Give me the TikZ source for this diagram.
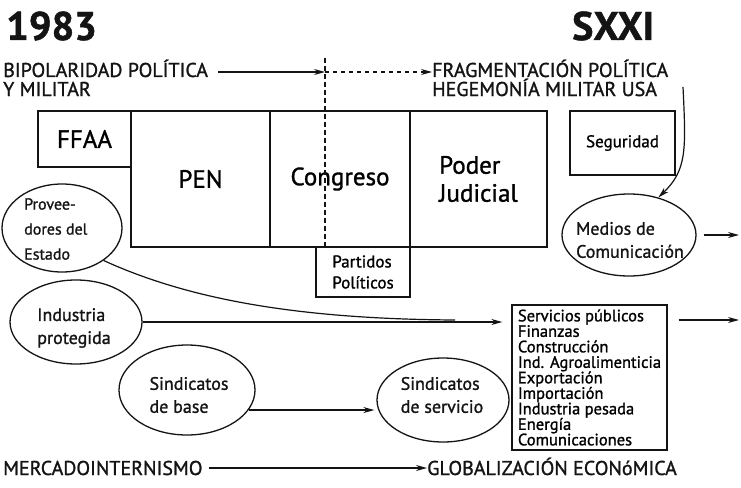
\documentclass[tikz,border=0pt]{standalone}
\usepackage{fontspec}
\setmainfont{PT Sans}[FakeBold=1.2]
\usetikzlibrary{shapes.geometric, arrows.meta, positioning}
\definecolor{inkblack}{HTML}{141414}

\begin{document}
\begin{tikzpicture}[x=1pt, y=-1pt,
  box/.style={draw=inkblack, line width=1.4pt, inner sep=2pt, font=\fontsize{25}{28}\selectfont},
  oval/.style={draw=inkblack, line width=1.3pt, ellipse, inner sep=0pt},
  ovaltext/.style={inkblack, align=left, inner sep=0pt, font=\fontsize{18}{23}\selectfont},
  yearlabel/.style={inkblack, inner sep=0pt, font=\fontsize{40}{40}\selectfont\bfseries},
  eralabel/.style={inkblack, inner sep=0pt, font=\fontsize{20}{20}\selectfont},
  flow/.style={inkblack, line width=1.2pt, -{Stealth[length=11pt, width=6pt]}},
  link/.style={inkblack, line width=1.2pt}
]
  % Canvas
  \useasboundingbox (0,0) rectangle (741,487);
  \fill[white] (0,0) rectangle (741,487);

  % Years
  \node[yearlabel, anchor=base west] (y1983) at (6,40) {1983};
  \node[yearlabel, anchor=base west] (ysxxi) at (572,40) {SXXI};

  % Political axis (top)
  \node[eralabel, anchor=base west] (bipol) at (3,77) {BIPOLARIDAD POLÍTICA};
  \node[eralabel, anchor=base west] (bipolb) at (3,96) {Y MILITAR};
  \node[eralabel, anchor=base west] (frag) at (432,77) {FRAGMENTACIÓN POLÍTICA};
  \node[eralabel, anchor=base west] (hege) at (432,96) {HEGEMONÍA MILITAR USA};
  \coordinate (split) at (325,72);
  \draw[flow, shorten <=10pt] (bipol.east |- split) -- (split);
  \draw[flow, dash pattern=on 4pt off 4pt] (split) -- (frag.west |- split);

  % State powers 1983
  \node[box, minimum width=93pt, minimum height=56pt] (ffaa) at (84.5,139) {FFAA};
  \node[box, minimum width=139pt, minimum height=136pt] (pen) at (200.5,179) {PEN};
  \node[box, minimum width=140pt, minimum height=136pt] (congreso) at (340,179) {Congreso};
  \node[box, minimum width=137pt, minimum height=136pt, align=left] (poder) at (478.5,179) {Poder\\Judicial};
  \node[box, minimum width=94pt, minimum height=50pt, align=left, font=\fontsize{17}{21}\selectfont] (partidos) at (363,272) {Partidos\\Políticos};
  \node[box, minimum width=105pt, minimum height=64pt, font=\fontsize{17}{17}\selectfont] (seguridad) at (622.5,143) {Seguridad};

  % Era divide
  \coordinate (cut) at (325,58);
  \draw[link, dash pattern=on 5pt off 3pt] (cut) -- (cut |- pen.south);

  % Actors
  \node[oval, minimum width=120pt, minimum height=88pt] (prov) at (62,228) {};
  \node[ovaltext, anchor=west, font=\fontsize{16}{25}\selectfont] (provtxt) at (24,229) {Provee-\\dores del\\Estado};
  \node[oval, minimum width=132pt, minimum height=84pt] (indus) at (76,322) {};
  \node[ovaltext] (industxt) at (74,328) {Industria\\protegida};
  \node[oval, minimum width=136pt, minimum height=90pt] (base) at (187,390) {};
  \node[ovaltext] (basetxt) at (189,395) {Sindicatos\\de base};
  \node[oval, minimum width=132pt, minimum height=84pt] (servi) at (443,400) {};
  \node[ovaltext] (servitxt) at (442,395) {Sindicatos\\de servicio};
  \node[oval, minimum width=134pt, minimum height=82pt] (medios) at (629,235) {};
  \node[ovaltext] (mediostxt) at (630,240) {Medios de\\Comunicación};

  % Sectors SXXI
  \node[box, minimum width=155pt, minimum height=145pt, inner xsep=5pt, align=left, font=\fontsize{16.5}{15.5}\selectfont] (sectores) at (589.5,377.5)
    {Servicios públicos\\Finanzas\\Construcción\\Ind. Agroalimenticia\\Exportación\\Importación\\Industria pesada\\Energía\\Comunicaciones};

  % Flows
  \coordinate (merge) at (455,320);
  \draw[link] (prov.-38) .. controls (190,300) and (300,319) .. (merge);
  \draw[flow, shorten >=9pt] (indus.east) -- (indus.east -| sectores.west);
  \coordinate (sectout) at (739,320);
  \draw[flow, shorten <=11pt] (sectores.east |- sectout) -- (sectout);
  \coordinate (medout) at (739,235);
  \draw[flow, shorten <=7pt] (medios.east) -- (medout);
  \coordinate (usa) at (683,87);
  \draw[flow] (usa) .. controls (686,150) and (687,170) .. (medios.52);
  \draw[flow, shorten >=2pt] (base.-18) -- (base.-18 -| servi.west);

  % Economic axis (bottom)
  \node[eralabel, anchor=base west] (merca) at (3,475) {MERCADOINTERNISMO};
  \node[eralabel, anchor=base west] (globa) at (427,475) {GLOBALIZACIÓN ECONóMICA};
  \draw[flow, shorten <=6pt] (merca.east) -- (merca.east -| globa.west);
\end{tikzpicture}
\end{document}
